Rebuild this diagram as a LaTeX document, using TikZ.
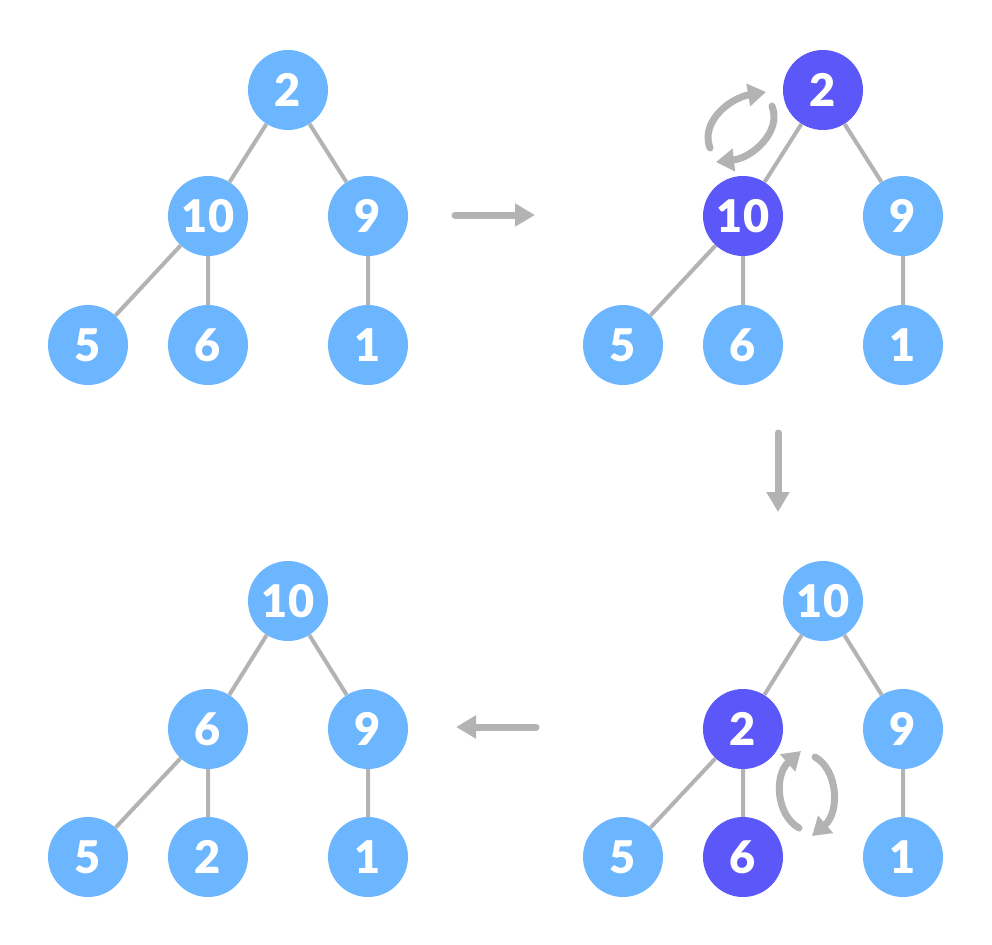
\documentclass[tikz,border=0pt]{standalone}
\usepackage{fontspec}
\setmainfont{Lato}[UprightFont=* Black]
\usetikzlibrary{arrows.meta}
\definecolor{lb}{HTML}{6BB6FF}
\definecolor{dp}{HTML}{5B57F8}
\definecolor{eg}{HTML}{B3B3B3}
\tikzset{
  nd/.style={circle,fill=lb,minimum size=80pt,inner sep=0pt,text=white,font=\fontsize{45}{45}\selectfont},
  hl/.style={nd,fill=dp},
  ed/.style={draw=eg,line width=4pt},
  bigarrow/.style={draw=eg,line width=7pt,line cap=round,-{Triangle[length=20pt,width=22pt]}},
  swaparrow/.style={draw=eg,line width=7pt,line cap=round,-{Triangle[length=18pt,width=22pt]}}
}
\begin{document}
\begin{tikzpicture}[x=1pt,y=-1pt]
\useasboundingbox (0,0) rectangle (992,944);
% tree 1
\node[nd] (a1) at (288,90) {2};
\node[nd] (a2) at (208,216) {10};
\node[nd] (a3) at (368,216) {9};
\node[nd] (a4) at (88,345) {5};
\node[nd] (a5) at (208,345) {6};
\node[nd] (a6) at (368,345) {1};
\draw[ed] (a1)--(a2) (a1)--(a3) (a2)--(a4) (a2)--(a5) (a3)--(a6);
% tree 2
\node[hl] (b1) at (823,90) {2};
\node[hl] (b2) at (743,216) {10};
\node[nd] (b3) at (903,216) {9};
\node[nd] (b4) at (623,345) {5};
\node[nd] (b5) at (743,345) {6};
\node[nd] (b6) at (903,345) {1};
\draw[ed] (b1)--(b2) (b1)--(b3) (b2)--(b4) (b2)--(b5) (b3)--(b6);
% tree 3
\node[nd] (c1) at (823,601) {10};
\node[hl] (c2) at (743,729) {2};
\node[nd] (c3) at (903,729) {9};
\node[nd] (c4) at (623,857) {5};
\node[hl] (c5) at (743,857) {6};
\node[nd] (c6) at (903,857) {1};
\draw[ed] (c1)--(c2) (c1)--(c3) (c2)--(c4) (c2)--(c5) (c3)--(c6);
% tree 4
\node[nd] (d1) at (288,601) {10};
\node[nd] (d2) at (208,729) {6};
\node[nd] (d3) at (368,729) {9};
\node[nd] (d4) at (88,857) {5};
\node[nd] (d5) at (208,857) {2};
\node[nd] (d6) at (368,857) {1};
\draw[ed] (d1)--(d2) (d1)--(d3) (d2)--(d4) (d2)--(d5) (d3)--(d6);
% step arrows
\coordinate (r1) at (455,215); \coordinate (r2) at (535,215);
\coordinate (s1) at (778,433); \coordinate (s2) at (778,512);
\coordinate (t1) at (536,727); \coordinate (t2) at (456,727);
\draw[bigarrow] (r1)--(r2);
\draw[bigarrow] (s1)--(s2);
\draw[bigarrow] (t1)--(t2);
% swap arrows 1
\coordinate (u1) at (710,148); \coordinate (u2) at (766,92);
\coordinate (v1) at (772,106); \coordinate (v2) at (716,162);
\draw[swaparrow] (u1) .. controls (700,122) and (730,98) .. (u2);
\draw[swaparrow] (v1) .. controls (782,132) and (752,158) .. (v2);
% swap arrows 2
\coordinate (w1) at (799,828); \coordinate (w2) at (801,751);
\coordinate (z1) at (815,757); \coordinate (z2) at (812,836);
\draw[swaparrow] (w1) .. controls (776,815) and (774,775) .. (w2);
\draw[swaparrow] (z1) .. controls (838,770) and (840,812) .. (z2);
\end{tikzpicture}
\end{document}
